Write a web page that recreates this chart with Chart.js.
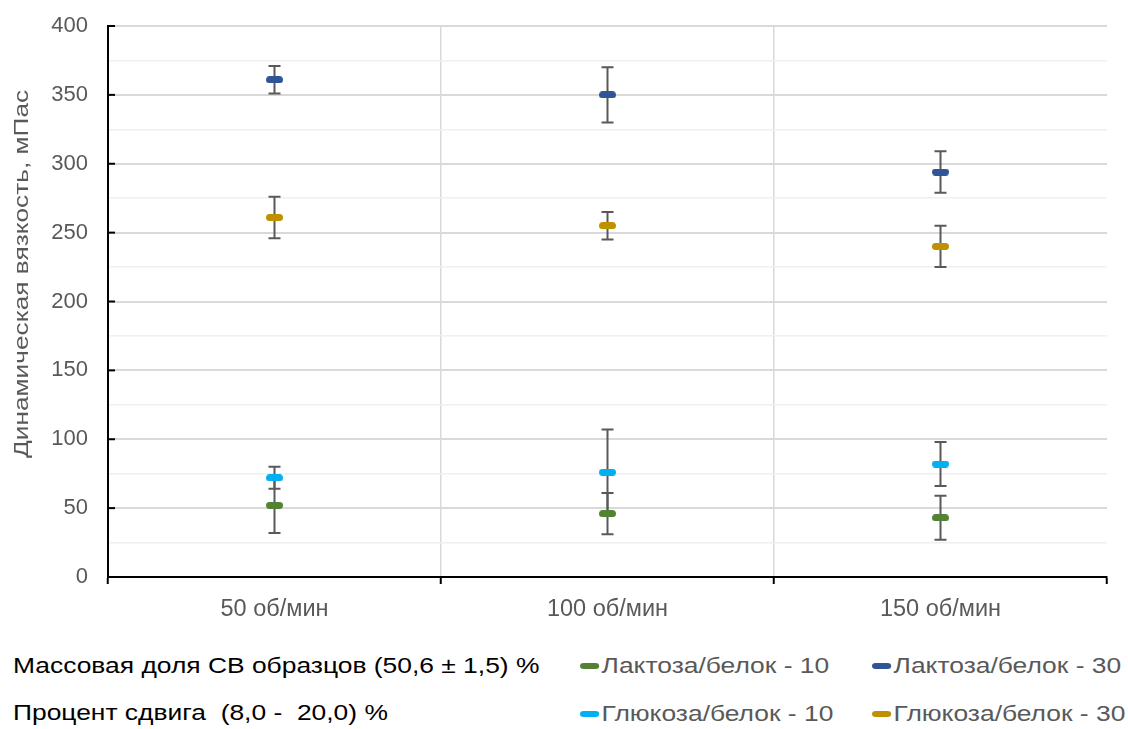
<!DOCTYPE html>
<html>
<head>
<meta charset="utf-8">
<script src="https://cdn.jsdelivr.net/npm/chart.js@4"></script>
<style>
  body { margin: 0; background: #fff; font-family: "Liberation Sans", Arial, sans-serif; }
  #wrap { position: relative; width: 1128px; height: 729px; }
  #myChart { position: absolute; left: 0; top: 0; }
  .note, .leg { position: absolute; font-size: 22px; line-height: 24px; white-space: pre; transform: scaleX(1.2); transform-origin: 0 50%; }
  .note { left: 13px; color: #000; }
  .leg { color: #595959; display: flex; align-items: center; }
  .leg i { display: inline-block; width: 16px; height: 6px; border-radius: 3px; margin-right: 2px; }
</style>
</head>
<body>
<div id="wrap">
  <canvas id="myChart" width="1128" height="640"></canvas>
  <div class="note" style="top:654px">Массовая доля СВ образцов (50,6 ± 1,5) %</div>
  <div class="note" style="top:701px">Процент сдвига  (8,0 -  20,0) %</div>
  <div id="legend"></div>
</div>
<script>
// Data for the chart
var categories = ["50 об/мин", "100 об/мин", "150 об/мин"];
var yTitle = "Динамическая вязкость, мПас";

var lactose10 = [52, 46, 43];
var lactose10Err = [20, 15, 16];
var lactose30 = [361, 350, 294];
var lactose30Err = [10, 20, 15];
var glucose10 = [72, 76, 82];
var glucose10Err = [8, 31, 16];
var glucose30 = [261, 255, 240];
var glucose30Err = [15, 10, 15];

// little rounded dash used as marker
function makeDash(color) {
  var c = document.createElement("canvas");
  c.width = 17; c.height = 7;
  var g = c.getContext("2d");
  g.fillStyle = color;
  g.beginPath();
  g.roundRect(0, 0, 17, 7, 3.5);
  g.fill();
  return c;
}

function series(label, values, errors, color) {
  return {
    label: label,
    data: values,
    errors: errors,
    color: color,
    showLine: false,
    pointStyle: makeDash(color),
    pointRadius: 9,
    backgroundColor: color,
    borderColor: color,
  };
}

var data = {
  labels: categories,
  datasets: [
    series("Лактоза/белок - 10", lactose10, lactose10Err, "#548235"),
    series("Лактоза/белок - 30", lactose30, lactose30Err, "#2F5597"),
    series("Глюкоза/белок - 10", glucose10, glucose10Err, "#00B0F0"),
    series("Глюкоза/белок - 30", glucose30, glucose30Err, "#BF9000"),
  ],
};

var extras = {
  id: "extras",
  // error bars, drawn under the markers
  beforeDatasetsDraw: function (chart) {
    var ctx = chart.ctx;
    var x = chart.scales.x, y = chart.scales.y;
    ctx.save();
    ctx.strokeStyle = "#595959";
    ctx.lineWidth = 2;
    chart.data.datasets.forEach(function (ds) {
      ds.data.forEach(function (v, i) {
        var px = x.getPixelForValue(i);
        var top = y.getPixelForValue(v + ds.errors[i]);
        var bot = y.getPixelForValue(v - ds.errors[i]);
        ctx.beginPath();
        ctx.moveTo(px, top); ctx.lineTo(px, bot);
        ctx.moveTo(px - 6, top); ctx.lineTo(px + 6, top);
        ctx.moveTo(px - 6, bot); ctx.lineTo(px + 6, bot);
        ctx.stroke();
      });
    });
    ctx.restore();
  },
  afterDraw: function (chart) {
    var ctx = chart.ctx;
    var y = chart.scales.y;
    ctx.save();
    // tick marks of the y axis point inside
    ctx.strokeStyle = "#000";
    ctx.lineWidth = 2;
    y.ticks.forEach(function (t) {
      if (t.value % 50 !== 0) return;
      var py = y.getPixelForValue(t.value);
      ctx.beginPath();
      ctx.moveTo(y.right - 1, py);
      ctx.lineTo(y.right + 7, py);
      ctx.stroke();
    });
    // axis title, a bit wider than the font, sits a little above the middle
    ctx.translate(22, y.getPixelForValue(220));
    ctx.rotate(-Math.PI / 2);
    ctx.scale(1.25, 1);
    ctx.fillStyle = "#595959";
    ctx.font = "21px 'Liberation Sans'";
    ctx.textAlign = "center";
    ctx.textBaseline = "middle";
    ctx.fillText(yTitle, 0, 0);
    ctx.restore();
  },
};

// Chart configuration
var config = {
  type: "line",
  data: data,
  options: {
    responsive: false,
    animation: false,
    layout: { padding: { top: 26, right: 21, bottom: 3, left: 0 } },
    scales: {
      x: {
        offset: true,
        border: { color: "#000", width: 2, z: 1 },
        grid: {
          offset: true,
          color: function (c) { return c.index === 1 || c.index === 2 ? "#d9d9d9" : "rgba(0,0,0,0)"; },
          lineWidth: 1.5,
          tickColor: "#000",
          tickWidth: 2,
          tickLength: 7,
        },
        ticks: { color: "#595959", font: { family: "Liberation Sans", size: 23.5 }, padding: 11 },
        afterFit: function (s) { s.height = 60; },
      },
      y: {
        min: 0,
        max: 400,
        border: { color: "#000", width: 2, z: 1 },
        grid: {
          drawTicks: false,
          color: function (c) { return c.tick.value % 50 === 0 ? "#d9d9d9" : "#f0f0f0"; },
          lineWidth: function (c) { return c.tick.value % 50 === 0 ? 2 : 1.5; },
        },
        ticks: {
          stepSize: 25,
          padding: 20,
          color: "#595959",
          font: { family: "Liberation Sans", size: 22 },
          callback: function (v) { return v % 50 === 0 ? v : ""; },
        },
        afterFit: function (s) { s.width = 108; s.paddingTop = 0; s.paddingBottom = 0; },
      },
    },
    plugins: {
      legend: { display: false },
      tooltip: { enabled: false },
    },
  },
  plugins: [extras],
};

// Create the chart
var ctx = document.getElementById("myChart").getContext("2d");
var myChart = new Chart(ctx, config);

// legend below the chart, two columns
var legendBox = document.getElementById("legend");
var colX = [580, 872], rowY = [654, 702];
myChart.data.datasets.forEach(function (ds, i) {
  var el = document.createElement("div");
  el.className = "leg";
  el.style.left = colX[i % 2] + "px";
  el.style.top = rowY[Math.floor(i / 2)] + "px";
  el.innerHTML = '<i style="background:' + ds.color + '"></i>' + ds.label;
  legendBox.appendChild(el);
});
</script>
</body>
</html>
